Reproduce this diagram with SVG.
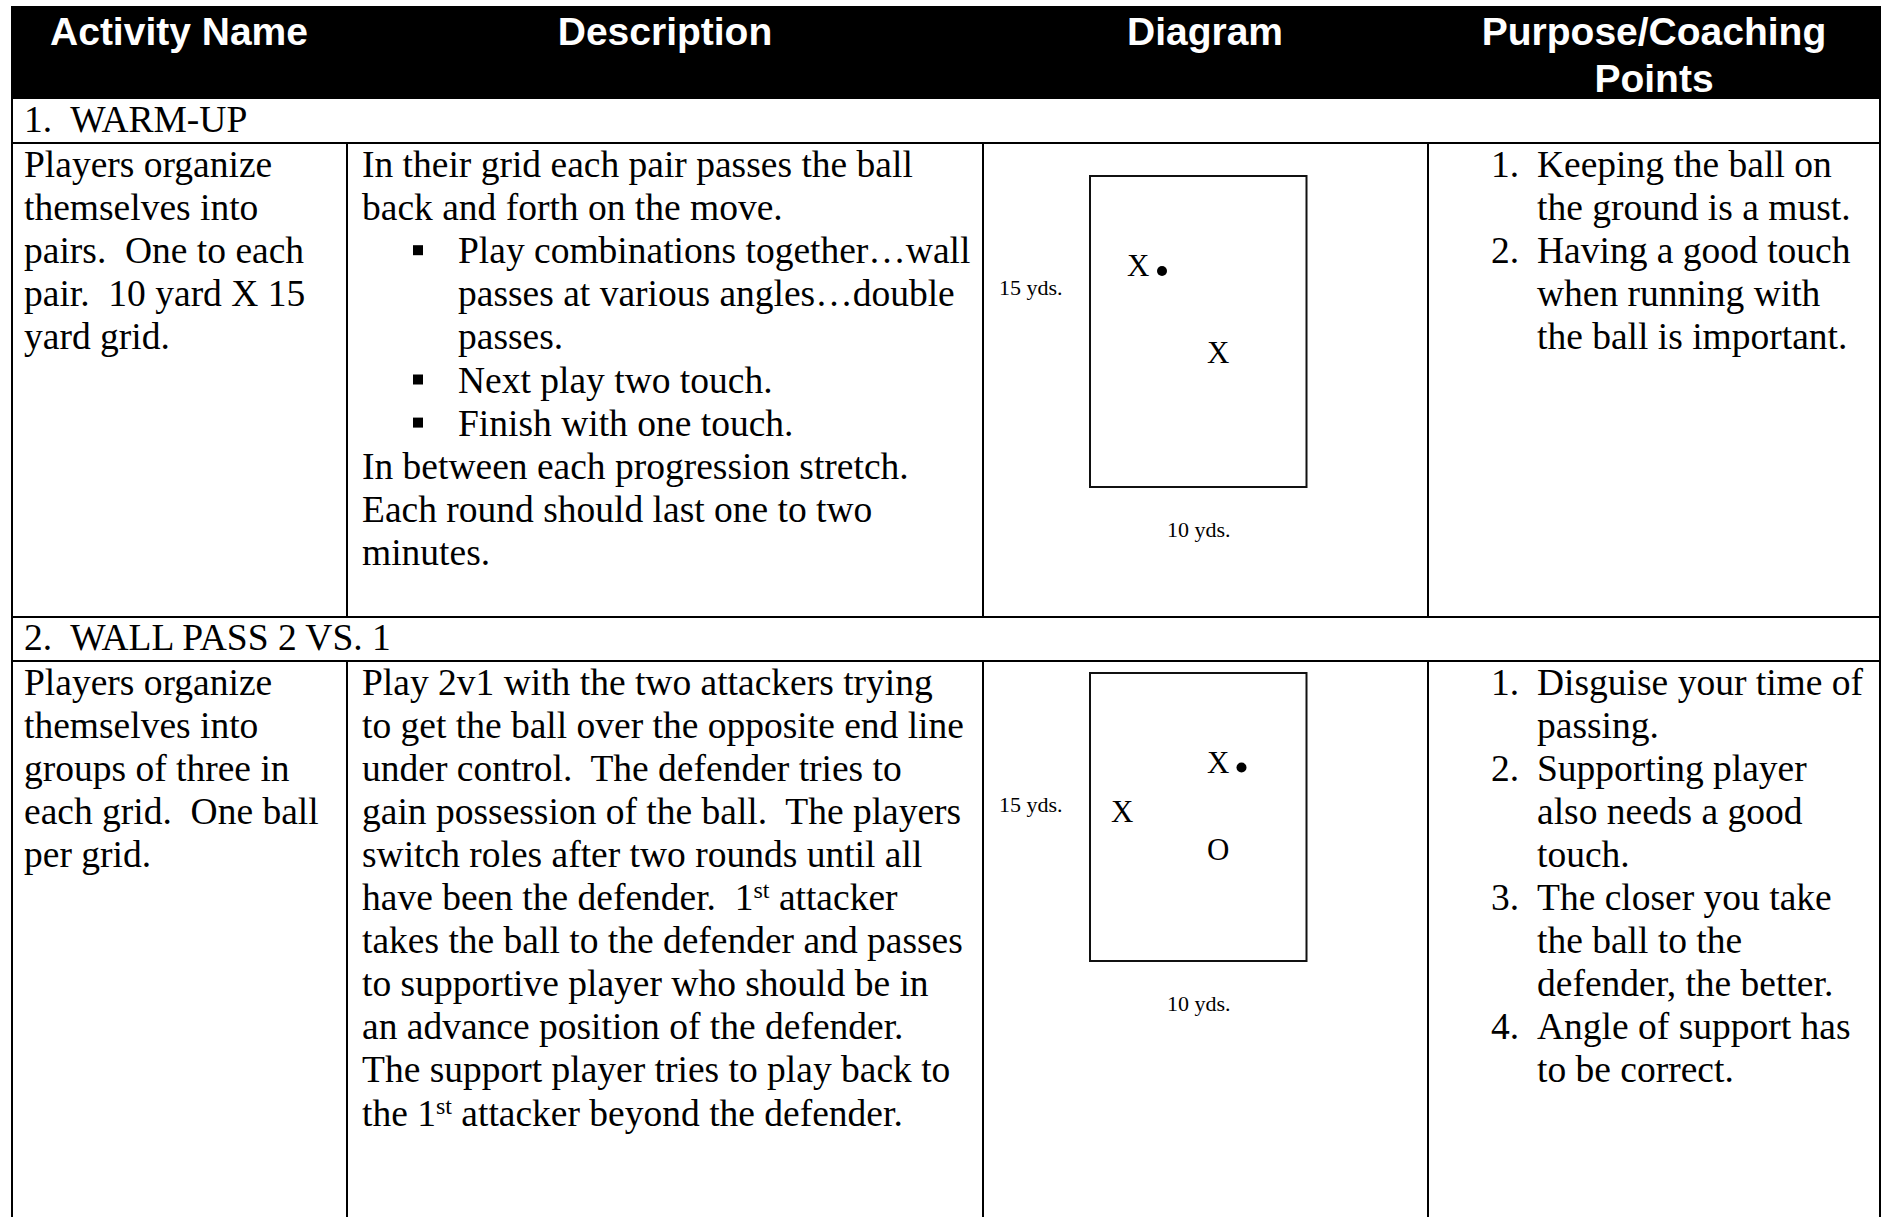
<svg xmlns="http://www.w3.org/2000/svg" width="1886" height="1217" viewBox="0 0 1886 1217">
<style>
text { white-space: pre; }
.h { font-family: "Liberation Sans", Arial, sans-serif; font-weight: bold; font-size: 39px; fill: #fff; text-anchor: middle; }
.b { font-family: "Liberation Serif", "Times New Roman", serif; font-size: 37.5px; fill: #000; }
.x { font-family: "Liberation Serif", "Times New Roman", serif; font-size: 31px; fill: #000; }
.s { font-family: "Liberation Serif", "Times New Roman", serif; font-size: 22px; fill: #000; }
.ln { stroke: #000; stroke-width: 2; fill: none; }
.fld { fill: none; stroke: #111; stroke-width: 2; }
.bul { fill: #000; }
</style>
<rect width="1886" height="1217" fill="#fff"/>

<g id="grid">
  <rect x="11" y="6" width="1870" height="93" fill="#000"/>
  <line class="ln" x1="12" y1="99" x2="12" y2="1217"/>
  <line class="ln" x1="1880" y1="99" x2="1880" y2="1217"/>
  <line class="ln" x1="11" y1="143" x2="1881" y2="143"/>
  <line class="ln" x1="11" y1="617" x2="1881" y2="617"/>
  <line class="ln" x1="11" y1="661" x2="1881" y2="661"/>
  <line class="ln" x1="347" y1="143" x2="347" y2="617"/>
  <line class="ln" x1="983" y1="143" x2="983" y2="617"/>
  <line class="ln" x1="1428" y1="143" x2="1428" y2="617"/>
  <line class="ln" x1="347" y1="661" x2="347" y2="1217"/>
  <line class="ln" x1="983" y1="661" x2="983" y2="1217"/>
  <line class="ln" x1="1428" y1="661" x2="1428" y2="1217"/>
</g>

<g id="header">
  <text class="h" x="179" y="44.5">Activity Name</text>
  <text class="h" x="665" y="44.5">Description</text>
  <text class="h" x="1205" y="44.5">Diagram</text>
  <text class="h" x="1654" y="44.5">Purpose/Coaching</text>
  <text class="h" x="1654" y="92">Points</text>
</g>

<g id="section1">
  <text class="b" x="24" y="132">1.  WARM-UP</text>
</g>

<g id="row1-name">
  <text class="b" x="24" y="177">Players organize</text>
  <text class="b" x="24" y="220.1">themselves into</text>
  <text class="b" x="24" y="263.2">pairs.  One to each</text>
  <text class="b" x="24" y="306.3">pair.  10 yard X 15</text>
  <text class="b" x="24" y="349.4">yard grid.</text>
</g>

<g id="row1-description">
  <text class="b" x="362" y="177">In their grid each pair passes the ball</text>
  <text class="b" x="362" y="220.1">back and forth on the move.</text>
  <rect class="bul" x="413" y="245.2" width="10" height="10"/>
  <text class="b" x="458" y="263.2">Play combinations together…wall</text>
  <text class="b" x="458" y="306.3">passes at various angles…double</text>
  <text class="b" x="458" y="349.4">passes.</text>
  <rect class="bul" x="413" y="374.5" width="10" height="10"/>
  <text class="b" x="458" y="392.5">Next play two touch.</text>
  <rect class="bul" x="413" y="417.6" width="10" height="10"/>
  <text class="b" x="458" y="435.6">Finish with one touch.</text>
  <text class="b" x="362" y="478.7">In between each progression stretch.</text>
  <text class="b" x="362" y="521.8">Each round should last one to two</text>
  <text class="b" x="362" y="564.9">minutes.</text>
</g>

<g id="row1-diagram">
  <rect class="fld" x="1090" y="176" width="216.5" height="311"/>
  <text class="s" x="999" y="295">15 yds.</text>
  <text class="x" x="1127" y="275.5">X</text>
  <circle cx="1162" cy="271" r="5" fill="#000"/>
  <text class="x" x="1207" y="363">X</text>
  <text class="s" x="1167" y="536.5">10 yds.</text>
</g>

<g id="row1-points">
  <text class="b" x="1491" y="177">1.</text>
  <text class="b" x="1537" y="177">Keeping the ball on</text>
  <text class="b" x="1537" y="220.1">the ground is a must.</text>
  <text class="b" x="1491" y="263.2">2.</text>
  <text class="b" x="1537" y="263.2">Having a good touch</text>
  <text class="b" x="1537" y="306.3">when running with</text>
  <text class="b" x="1537" y="349.4">the ball is important.</text>
</g>

<g id="section2">
  <text class="b" x="24" y="650">2.  WALL PASS 2 VS. 1</text>
</g>

<g id="row2-name">
  <text class="b" x="24" y="694.5">Players organize</text>
  <text class="b" x="24" y="737.6">themselves into</text>
  <text class="b" x="24" y="780.7">groups of three in</text>
  <text class="b" x="24" y="823.8">each grid.  One ball</text>
  <text class="b" x="24" y="866.9">per grid.</text>
</g>

<g id="row2-description">
  <text class="b" x="362" y="694.5">Play 2v1 with the two attackers trying</text>
  <text class="b" x="362" y="737.6">to get the ball over the opposite end line</text>
  <text class="b" x="362" y="780.7">under control.  The defender tries to</text>
  <text class="b" x="362" y="823.8">gain possession of the ball.  The players</text>
  <text class="b" x="362" y="866.9">switch roles after two rounds until all</text>
  <text class="b" x="362" y="910">have been the defender.  1<tspan font-size="24" dy="-12">st</tspan><tspan dy="12"> attacker</tspan></text>
  <text class="b" x="362" y="953.1">takes the ball to the defender and passes</text>
  <text class="b" x="362" y="996.2">to supportive player who should be in</text>
  <text class="b" x="362" y="1039.3">an advance position of the defender.</text>
  <text class="b" x="362" y="1082.4">The support player tries to play back to</text>
  <text class="b" x="362" y="1125.5">the 1<tspan font-size="24" dy="-12">st</tspan><tspan dy="12"> attacker beyond the defender.</tspan></text>
</g>

<g id="row2-diagram">
  <rect class="fld" x="1090" y="673" width="216.5" height="288"/>
  <text class="s" x="999" y="811.5">15 yds.</text>
  <text class="x" x="1207" y="772.5">X</text>
  <circle cx="1241.5" cy="767.5" r="5" fill="#000"/>
  <text class="x" x="1111" y="822">X</text>
  <text class="x" x="1207" y="859.5">O</text>
  <text class="s" x="1167" y="1010.5">10 yds.</text>
</g>

<g id="row2-points">
  <text class="b" x="1491" y="694.5">1.</text>
  <text class="b" x="1537" y="694.5">Disguise your time of</text>
  <text class="b" x="1537" y="737.6">passing.</text>
  <text class="b" x="1491" y="780.7">2.</text>
  <text class="b" x="1537" y="780.7">Supporting player</text>
  <text class="b" x="1537" y="823.8">also needs a good</text>
  <text class="b" x="1537" y="866.9">touch.</text>
  <text class="b" x="1491" y="910">3.</text>
  <text class="b" x="1537" y="910">The closer you take</text>
  <text class="b" x="1537" y="953.1">the ball to the</text>
  <text class="b" x="1537" y="996.2">defender, the better.</text>
  <text class="b" x="1491" y="1039.3">4.</text>
  <text class="b" x="1537" y="1039.3">Angle of support has</text>
  <text class="b" x="1537" y="1082.4">to be correct.</text>
</g>
</svg>
